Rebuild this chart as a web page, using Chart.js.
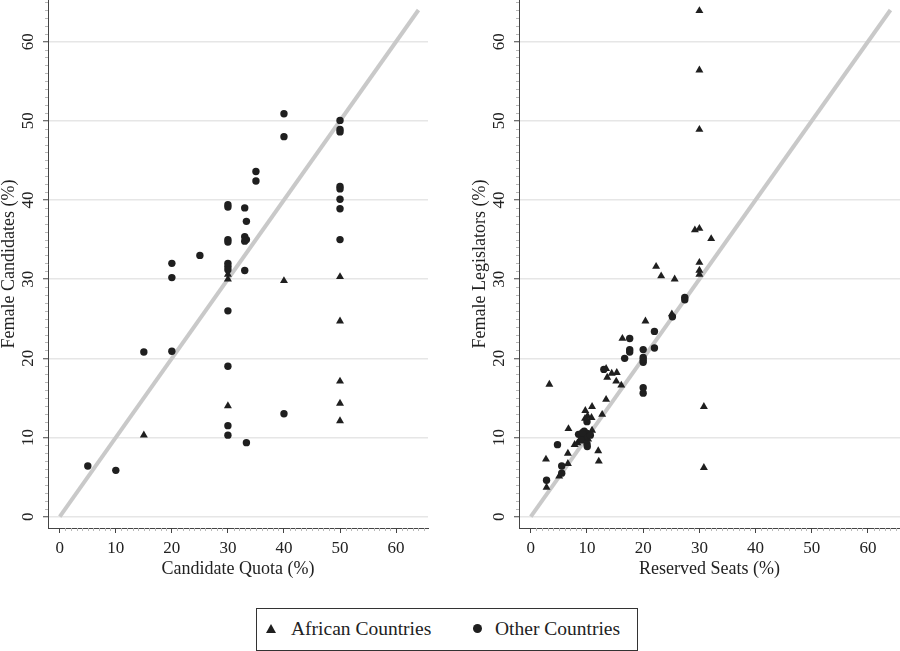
<!DOCTYPE html>
<html>
<head>
<meta charset="utf-8">
<script src="https://cdn.jsdelivr.net/npm/chart.js@4"></script>
<style>
  body { margin:0; background:#fff; width:900px; height:651px; overflow:hidden; position:relative; font-family:"Liberation Serif","Times New Roman",serif; }
  canvas { position:absolute; top:0; }
  #c1 { left:0; }
  #c2 { left:450px; }
  #legend { position:absolute; left:256px; top:608px; width:382px; height:43px; border:1px solid #333; box-sizing:border-box; color:#222; font-size:19.5px; }
  #legend .txt { position:absolute; top:8px; line-height:24px; white-space:nowrap; }
  #legend .tri { position:absolute; left:9px; top:15px; width:0; height:0; border-left:5px solid transparent; border-right:5px solid transparent; border-bottom:9px solid #1f1f1f; }
  #legend .dot { position:absolute; left:216px; top:15px; width:9px; height:9px; border-radius:50%; background:#1f1f1f; }
</style>
</head>
<body>
<canvas id="c1" width="450" height="590"></canvas>
<canvas id="c2" width="450" height="590"></canvas>
<div id="legend">
  <div class="tri"></div><span class="txt" style="left:34px">African Countries</span>
  <div class="dot"></div><span class="txt" style="left:238px">Other Countries</span>
</div>
<script>
// ---------- Tick labels ----------
const majorTicks = [0, 10, 20, 30, 40, 50, 60];

// ---------- Left panel: Candidate Quota ----------
const quotaAfricanX = [15, 30, 30, 30, 40, 50, 50, 50, 50, 50];
const quotaAfricanY = [10.3, 30.6, 30.0, 14.0, 29.8, 30.3, 24.7, 17.1, 14.3, 12.1];

const quotaOtherX = [5, 10, 15, 20, 20, 20, 25,
  30, 30, 30, 30, 30, 30, 30, 30, 30, 30, 30,
  33, 33.3, 33, 33.3, 33, 33, 33.3,
  35, 35, 40, 40, 40,
  50, 50, 50, 50, 50, 50, 50, 50];
const quotaOtherY = [6.4, 5.85, 20.8, 20.9, 30.2, 32.0, 33.0,
  39.4, 39.1, 35.0, 34.7, 32.0, 31.6, 31.2, 26.0, 19.0, 11.5, 10.3,
  39.0, 37.3, 35.35, 35.0, 34.8, 31.1, 9.35,
  43.6, 42.4, 50.9, 48.0, 13.0,
  50.05, 48.9, 48.6, 41.7, 41.4, 40.1, 38.9, 35.0];

// ---------- Right panel: Reserved Seats ----------
const seatsAfricanX = [30, 30, 30, 29.2, 30, 32.1, 22.3, 23.2, 25.6, 30, 30, 30,
  25.1, 20.4, 16.3, 13.4, 13.6, 14.4, 15.3, 15.2, 16.1, 3.3, 13.4, 30.8, 30.8,
  10.9, 9.7, 10.1, 12.7, 9.65, 10.8, 6.7, 10.9, 7.8, 8.3, 8.8, 9.3, 10.2,
  6.6, 12.0, 12.1, 2.7, 6.6, 5.05, 2.8];
const seatsAfricanY = [63.9, 56.4, 48.9, 36.2, 36.4, 35.1, 31.6, 30.4, 30.0, 32.1, 31.1, 30.6,
  25.6, 24.7, 22.5, 18.7, 17.6, 18.1, 18.2, 17.1, 16.6, 16.7, 14.8, 13.9, 6.2,
  13.9, 13.4, 12.7, 12.9, 12.4, 12.5, 11.1, 10.9, 9.1, 9.3, 9.6, 10.3, 9.8,
  8.0, 8.3, 7.0, 7.25, 6.7, 5.1, 3.7];

const seatsOtherX = [27.4, 27.4, 25.2, 22.0, 17.6, 17.6, 17.6, 20, 22.0, 16.7,
  20, 20, 20, 20, 20, 13.0, 10.0, 8.5, 9.5, 10, 9.8, 9.0, 10, 10.05, 9.2, 10.6,
  4.75, 5.5, 5.5, 2.8];
const seatsOtherY = [27.7, 27.4, 25.25, 23.4, 22.5, 21.1, 20.8, 21.1, 21.3, 20.0,
  20.1, 19.8, 19.5, 16.3, 15.6, 18.6, 12.0, 10.4, 10.8, 10.5, 10.0, 9.7, 9.2, 8.85, 10.6, 10.3,
  9.1, 6.4, 5.5, 4.6];

const diagonalX = [0, 64];
const diagonalY = [0, 64];

// ---------- helpers ----------
const zip = (xs, ys) => xs.map((x, i) => ({ x: x, y: ys[i] }));
const FONT = '"Liberation Serif", "Times New Roman", serif';
const INK = '#1f1f1f';
const AXIS = '#444';

const extrasPlugin = {
  id: 'extras',
  afterDraw(chart) {
    const ctx = chart.ctx;
    const xs = chart.scales.x, ys = chart.scales.y;
    ctx.save();
    // minor ticks
    ctx.strokeStyle = '#b8b8b8';
    ctx.lineWidth = 1;
    for (let v = 1; v <= 65; v++) {
      if (v % 10 === 0) continue;
      const px = Math.round(xs.getPixelForValue(v)) + 0.5;
      if (px <= xs.right) {
        ctx.beginPath(); ctx.moveTo(px, xs.top); ctx.lineTo(px, xs.top + 3); ctx.stroke();
      }
      const py = Math.round(ys.getPixelForValue(v)) + 0.5;
      if (py >= ys.top) {
        ctx.beginPath(); ctx.moveTo(ys.right, py); ctx.lineTo(ys.right - 3, py); ctx.stroke();
      }
    }
    // rotated y tick labels
    ctx.fillStyle = '#222';
    ctx.font = '17px ' + FONT;
    ctx.textAlign = 'center';
    ctx.textBaseline = 'middle';
    ys.ticks.forEach(t => {
      const py = ys.getPixelForValue(t.value);
      ctx.save();
      ctx.translate(ys.right - 20, py);
      ctx.rotate(-Math.PI / 2);
      ctx.fillText(String(t.value), 0, 1);
      ctx.restore();
    });
    ctx.restore();
  }
};

function makeChart(id, xTitle, yTitle, afrX, afrY, othX, othY, yScaleWidth, padRight, yTitlePad) {
  return new Chart(document.getElementById(id), {
    type: 'scatter',
    data: {
      datasets: [
        {
          type: 'line',
          label: 'diagonal',
          data: zip(diagonalX, diagonalY),
          borderColor: '#c9c9c9',
          borderWidth: 4,
          pointRadius: 0,
          fill: false,
          order: 10
        },
        {
          label: 'African Countries',
          data: zip(afrX, afrY),
          pointStyle: 'triangle',
          pointRadius: 4.6,
          backgroundColor: INK,
          borderColor: INK,
          borderWidth: 0,
          order: 1
        },
        {
          label: 'Other Countries',
          data: zip(othX, othY),
          pointStyle: 'circle',
          pointRadius: 3.7,
          backgroundColor: INK,
          borderColor: INK,
          borderWidth: 0,
          order: 0
        }
      ]
    },
    options: {
      responsive: false,
      animation: false,
      devicePixelRatio: 1,
      layout: { autoPadding: false, padding: { left: 0, right: padRight, top: 0, bottom: 0 } },
      plugins: { legend: { display: false }, tooltip: { enabled: false } },
      scales: {
        x: {
          type: 'linear',
          min: -2.1,
          max: 65.7,
          afterBuildTicks: s => { s.ticks = majorTicks.map(v => ({ value: v })); },
          afterFit: s => { s.height = 62; },
          grid: { display: true, drawOnChartArea: false, drawTicks: true, tickLength: 5, tickColor: AXIS, tickWidth: 1 },
          border: { display: true, color: AXIS, width: 1 },
          ticks: { color: '#222', font: { family: FONT, size: 17 }, padding: 5, maxRotation: 0 },
          title: { display: true, text: xTitle, color: '#222', font: { family: FONT, size: 18, lineHeight: 1 }, padding: { top: 0, bottom: 12 } }
        },
        y: {
          type: 'linear',
          min: -1.43,
          max: 65.26,
          afterBuildTicks: s => { s.ticks = majorTicks.map(v => ({ value: v })); },
          afterFit: s => { s.width = yScaleWidth; },
          grid: { display: true, drawOnChartArea: true, color: '#e6e6e6', lineWidth: 1.5, drawTicks: true, tickLength: 5, tickColor: AXIS, tickWidth: 1 },
          border: { display: true, color: AXIS, width: 1 },
          ticks: { display: false },
          title: { display: true, text: yTitle, color: '#222', font: { family: FONT, size: 18, lineHeight: 1 }, padding: { top: yTitlePad, bottom: 0 } }
        }
      }
    },
    plugins: [extrasPlugin]
  });
}

makeChart('c1', 'Candidate Quota (%)', 'Female Candidates (%)',
  quotaAfricanX, quotaAfricanY, quotaOtherX, quotaOtherY, 48, 22, 0);
makeChart('c2', 'Reserved Seats (%)', 'Female Legislators (%)',
  seatsAfricanX, seatsAfricanY, seatsOtherX, seatsOtherY, 69, 0, 21);
</script>
</body>
</html>
